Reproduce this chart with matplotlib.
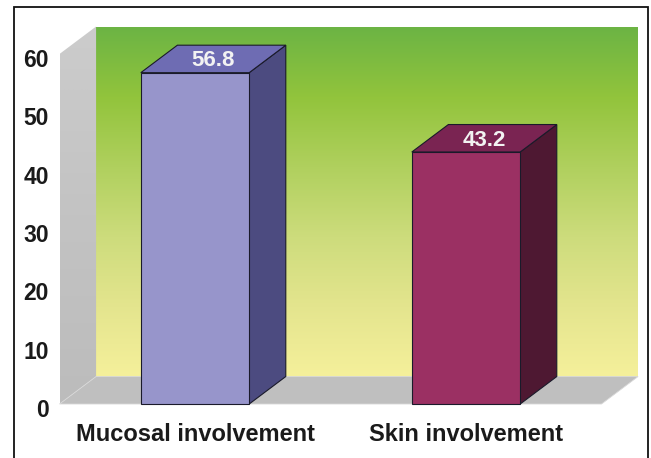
import numpy as np
import matplotlib.pyplot as plt
from matplotlib.patches import Polygon, Rectangle
from matplotlib.colors import LinearSegmentedColormap
from matplotlib.transforms import ScaledTranslation

# data
categories = ["Mucosal involvement", "Skin involvement"]
values = [56.8, 43.2]
value_labels = ["56.8", "43.2"]
yticks = [0, 10, 20, 30, 40, 50, 60]

# colours per bar: front, side, top
front_colors = ["#9795cb", "#9b3063"]
side_colors = ["#4c4b80", "#4e1832"]
top_colors = ["#6e6cb3", "#7a2452"]

# fake 3d depth (data units)
DX = 0.135
DY = 4.71
BAR_W = 0.4

fig = plt.figure(figsize=(6.51, 4.58), dpi=100)
# front plane of the chart: x -0.5..1.5, y 0..60
ax = fig.add_axes([59.5 / 651, 1 - 404 / 458, 542 / 651, 350 / 458])
ax.patch.set_visible(False)
for s in ax.spines.values():
    s.set_visible(False)

xmin, xmax = -0.5, 1.5
ymax = 60

# back wall with green -> yellow gradient
wall_cmap = LinearSegmentedColormap.from_list(
    "wall", ["#f5f09b", "#e4e58e", "#cddc7c", "#b0d05e", "#92c43c", "#6cb444"])
grad = np.linspace(0, 1, 256).reshape(-1, 1)
im = ax.imshow(grad, cmap=wall_cmap, origin="lower", aspect="auto",
               extent=(xmin + DX, xmax + DX, DY, ymax + DY), zorder=0)
im.set_clip_on(False)

# left side wall
left_wall = Polygon([(xmin, 0), (xmin, ymax), (xmin + DX, ymax + DY), (xmin + DX, DY)],
                    closed=True, facecolor="none", edgecolor="none", clip_on=False)
ax.add_patch(left_wall)
gray_cmap = LinearSegmentedColormap.from_list("gray", ["#bcbcbc", "#c3c3c3", "#cccccc"])
im2 = ax.imshow(grad, cmap=gray_cmap, origin="lower", aspect="auto",
                extent=(xmin, xmin + DX, 0, ymax + DY), zorder=0)
im2.set_clip_path(left_wall)
im2.set_clip_box(fig.bbox)

# floor
floor = Polygon([(xmin, 0), (xmax, 0), (xmax + DX, DY), (xmin + DX, DY)],
                closed=True, facecolor="#bfbfbf", edgecolor="#d8d8d8", lw=0.6,
                clip_on=False, zorder=1)
ax.add_patch(floor)

# 3d bars
for i, v in enumerate(values):
    x0, x1 = i - BAR_W / 2, i + BAR_W / 2
    side = Polygon([(x1, 0), (x1 + DX, DY), (x1 + DX, v + DY), (x1, v)],
                   closed=True, facecolor=side_colors[i], edgecolor="#1a1a2a",
                   lw=0.8, clip_on=False, zorder=2)
    top = Polygon([(x0, v), (x1, v), (x1 + DX, v + DY), (x0 + DX, v + DY)],
                  closed=True, facecolor=top_colors[i], edgecolor="#1a1a2a",
                  lw=0.8, clip_on=False, zorder=2)
    front = Rectangle((x0, 0), BAR_W, v, facecolor=front_colors[i],
                      edgecolor="#1a1a2a", lw=0.8, clip_on=False, zorder=3)
    ax.add_patch(side)
    ax.add_patch(top)
    ax.add_patch(front)
    ax.text(i + DX / 2, v + DY / 2 - 0.3, value_labels[i], color="#f2f2f2",
            fontsize=16, fontweight="bold", family="Liberation Sans",
            ha="center", va="center", zorder=4)

ax.set_xlim(xmin, xmax)
ax.set_ylim(0, ymax)

# axes ticks
ax.set_yticks(yticks)
ax.set_yticklabels([str(t) for t in yticks], fontsize=16.5, fontweight="bold",
                   family="Liberation Sans", color="#1a1a1a")
ax.set_xticks(range(len(categories)))
ax.set_xticklabels(categories, fontsize=17, fontweight="bold",
                   family="Liberation Sans", color="#1a1a1a")
ax.tick_params(axis="y", length=0, pad=7.5)
ax.tick_params(axis="x", length=0, pad=14)
off = ScaledTranslation(0, -4 / 100, fig.dpi_scale_trans)
for lab in ax.get_yticklabels():
    lab.set_transform(lab.get_transform() + off)

# outer frame
fig.add_artist(Rectangle((14 / 651, -0.02), 634 / 651, 1 - 7 / 458 + 0.02,
                         transform=fig.transFigure, facecolor="none",
                         edgecolor="#111111", lw=1.3))

fig.savefig("out.png", dpi=100)
